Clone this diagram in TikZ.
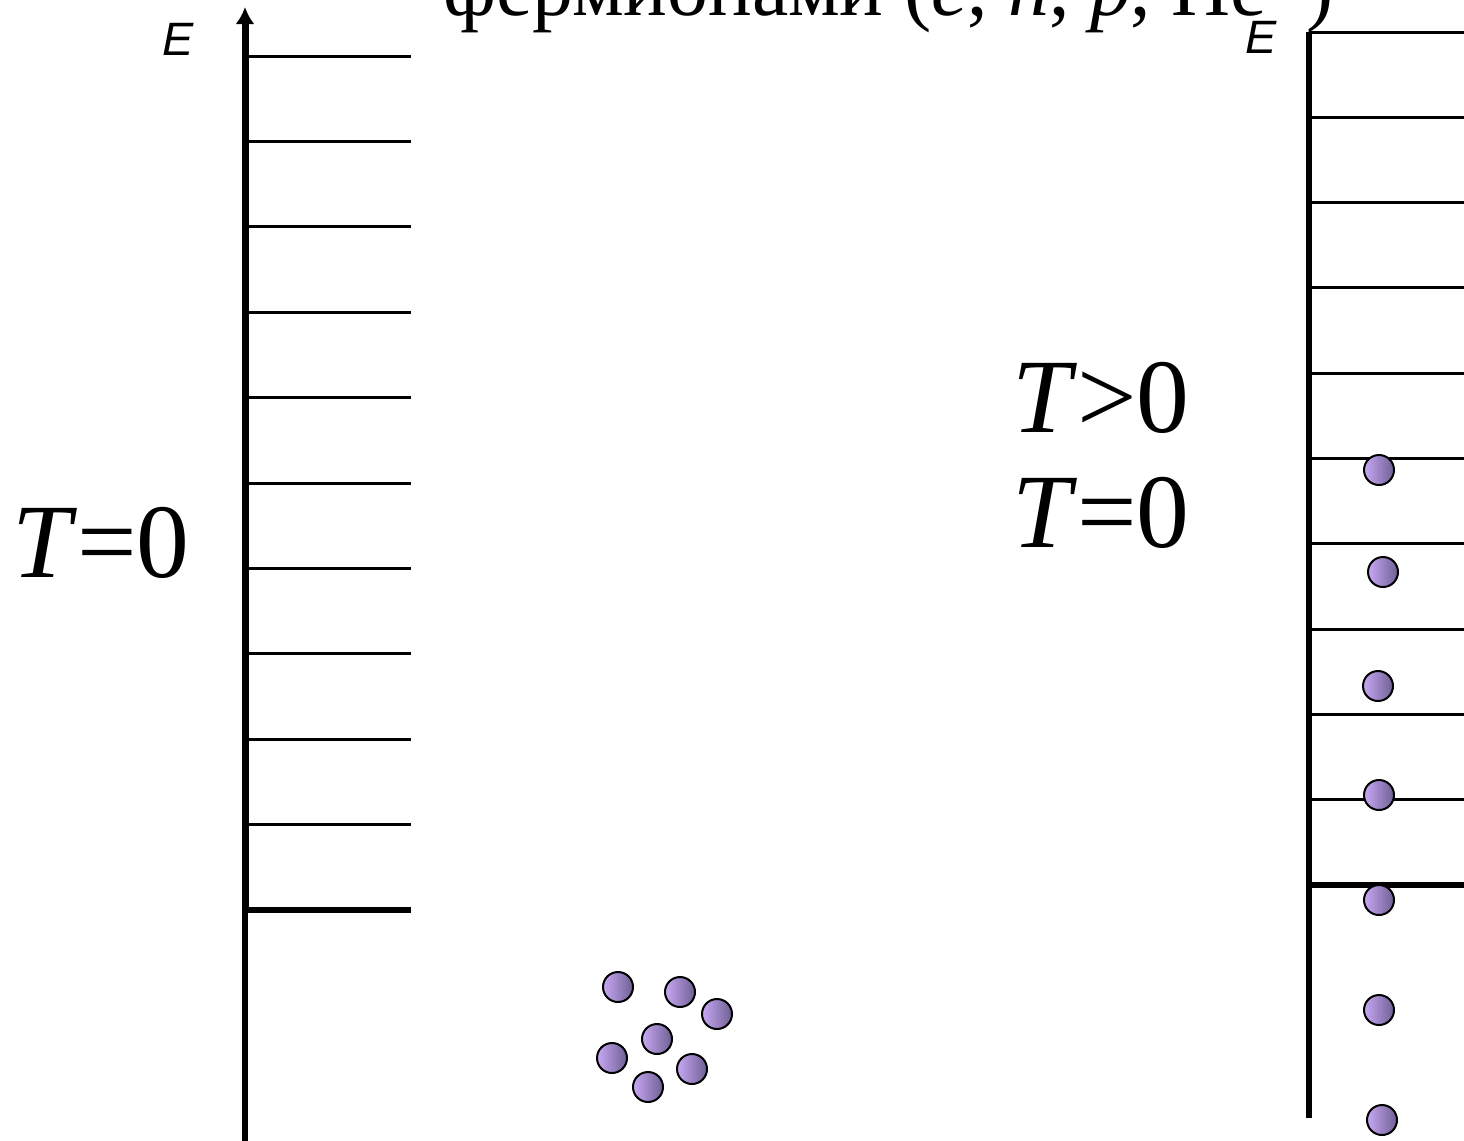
\documentclass[tikz,border=0pt]{standalone}
\usepackage{fontspec}
\setmainfont{Liberation Serif}
\newfontfamily\arialfont{Liberation Sans}
\usetikzlibrary{arrows.meta}
\definecolor{balllight}{RGB}{200,168,245}
\definecolor{balldark}{RGB}{110,95,145}
\begin{document}
\begin{tikzpicture}[x=1bp,y=-1bp,
  levelline/.style={line width=3bp},
  fermiline/.style={line width=5.5bp},
  axisline/.style={line width=7bp},
  ball/.style={circle, draw=black, line width=2bp, minimum size=30bp, inner sep=0pt,
    left color=balllight, right color=balldark},
  bigtext/.style={anchor=base west, inner sep=0pt, font=\fontsize{106}{110}\selectfont},
  elabel/.style={anchor=base west, inner sep=0pt, font=\arialfont\itshape\fontsize{47}{50}\selectfont},
  title/.style={anchor=base west, inner sep=0pt, font=\fontsize{82}{90}\selectfont}]
\useasboundingbox (0,0) rectangle (1464,1140);
\begin{scope}
\clip (0,0) rectangle (1464,1140);
% title
\node[title] (ttl) at (443,15) {фермионами (\textit{e}, \textit{n}, \textit{p}, He\hspace{6bp}\raisebox{26bp}{\fontsize{60}{60}\selectfont 3}\hspace{4bp})};
% left ladder
\coordinate (lb) at (245,1145);
\coordinate (lf) at (245,910);
\coordinate (lt) at (245,7);
\draw[line width=6bp] (lb) -- (lf);
\draw[axisline, -{Latex[length=17bp,width=19bp]}] (lf) -- (lt);
\foreach \i in {0,...,9} {
  \coordinate (la\i) at (245,{56+\i*85.4});
  \coordinate (lz\i) at (411,{56+\i*85.4});
  \draw[levelline] (la\i) -- (lz\i);
}
\coordinate (laF) at (245,910);
\coordinate (lzF) at (411,910);
\draw[fermiline] (laF) -- (lzF);
% right ladder
\coordinate (rt) at (1309,32);
\coordinate (rb) at (1309,1118);
\draw[line width=6bp] (rt) -- (rb);
\foreach \i in {0,...,9} {
  \coordinate (ra\i) at (1309,{32+\i*85.3});
  \coordinate (rz\i) at (1470,{32+\i*85.3});
  \draw[levelline] (ra\i) -- (rz\i);
}
\coordinate (raF) at (1309,885);
\coordinate (rzF) at (1470,885);
\draw[fermiline] (raF) -- (rzF);
% labels
\node[elabel] (e1) at (162,55) {E};
\node[elabel] (e2) at (1245,53) {E};
\node[bigtext] (t0l) at (12,577) {\textit{T}=0};
\node[bigtext] (tg) at (1012,432) {\textit{T}>0};
\node[bigtext] (t0r) at (1012,547) {\textit{T}=0};
% right balls
\node[ball] (r1) at (1379,470) {};
\node[ball] (r2) at (1383,572) {};
\node[ball] (r3) at (1378,686) {};
\node[ball] (r4) at (1379,795) {};
\node[ball] (r5) at (1379,900) {};
\node[ball] (r6) at (1379,1010) {};
\node[ball] (r7) at (1382,1120) {};
% cluster
\node[ball] (c1) at (618,987) {};
\node[ball] (c2) at (680,992) {};
\node[ball] (c3) at (717,1014) {};
\node[ball] (c4) at (657,1039) {};
\node[ball] (c5) at (612,1058) {};
\node[ball] (c6) at (692,1069) {};
\node[ball] (c7) at (648,1087) {};
\end{scope}
\end{tikzpicture}
\end{document}
